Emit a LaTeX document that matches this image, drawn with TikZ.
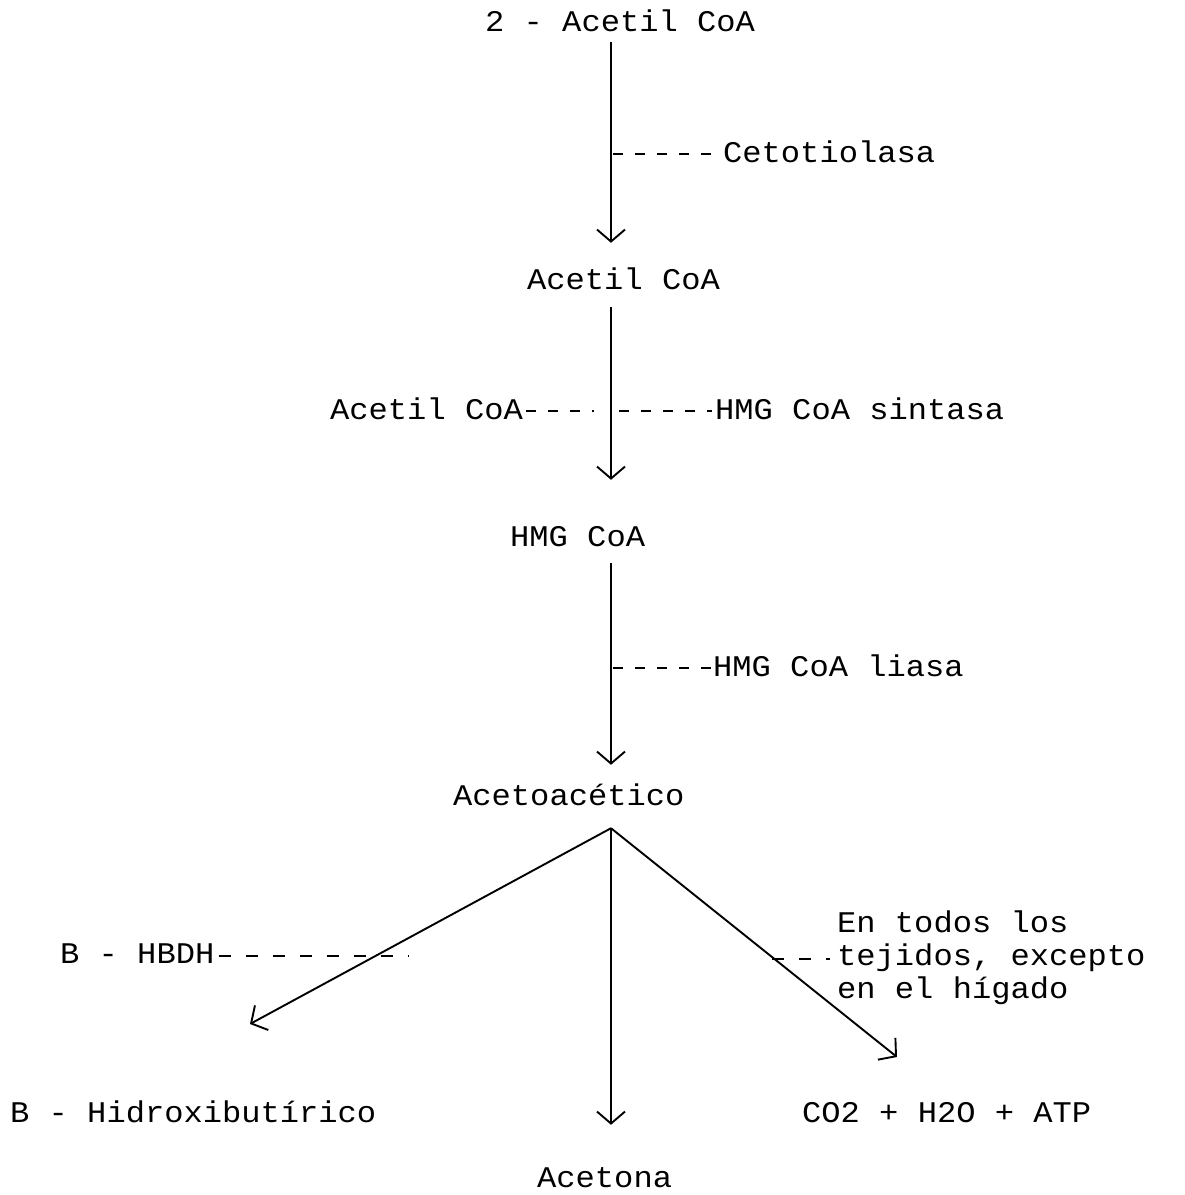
\documentclass[tikz,border=0pt]{standalone}
\usepackage{fontspec}
\setmainfont{Liberation Mono}[FakeStretch=1.07]
\usetikzlibrary{arrows.meta,calc}
\begin{document}
\begin{tikzpicture}[x=1pt,y=-1pt,
  lbl/.style={inner sep=0pt, text height=16pt, text depth=0pt, anchor=west, font=\fontsize{30}{33}\selectfont},
  arr/.style={line width=1.9pt, -{Straight Barb[length=12pt,width=28pt,line width=1.9pt]}},
  dsh/.style={line width=1.1pt, dash pattern=on 10pt off 12pt},
  dshw/.style={line width=1.1pt, dash pattern=on 12pt off 15pt}]
\useasboundingbox (0,0) rectangle (1185,1195);
\fill[white] (0,0) rectangle (1185,1195);
\coordinate (ax) at (611,0);
% main chain
\node[lbl] (t1) at (485,23) {2 - Acetil CoA};
\node[lbl] (t2) at (527,281) {Acetil CoA};
\node[lbl] (t3) at (510,538) {HMG CoA};
\node[lbl] (t4) at (453,797) {Acetoacético};
% enzymes
\node[lbl] (e1) at (723,154) {Cetotiolasa};
\node[lbl] (s1) at (330,411) {Acetil CoA};
\node[lbl] (e2) at (715,411) {HMG CoA sintasa};
\node[lbl] (e3) at (713,668) {HMG CoA liasa};
\node[lbl] (e4) at (60,955) {B - HBDH};
\node[lbl, align=left, text height=, text depth=, anchor=west] (e5) at (837,958) {En todos los\\tejidos, excepto\\en el hígado};
% products
\node[lbl] (p1) at (10,1114) {B - Hidroxibutírico};
\node[lbl] (p2) at (537,1179) {Acetona};
\node[lbl] (p3) at (802,1114) {CO2 + H2O + ATP};
% arrows
\coordinate (s1x) at ($(t1.south -| ax)$);
\draw[arr, shorten <=11pt, shorten >=30pt] (t1.south -| ax) -- (t2.north -| ax);
\draw[arr, shorten <=18pt, shorten >=50pt] (t2.south -| ax) -- (t3.north -| ax);
\draw[arr, shorten <=17pt, shorten >=24pt] (t3.south -| ax) -- (t4.north -| ax);
\coordinate (fork) at ($(t4.south -| ax)+(0,23)$);
\coordinate (tipL) at (250,1024);
\coordinate (tipR) at (897,1057);
\draw[arr] (fork) -- (tipL);
\draw[arr, shorten >=46pt] (fork) -- (p2.north -| ax);
\draw[arr] (fork) -- (tipR);
% dashed enzyme links
\draw[dsh] ($(e1.west -| ax)+(2,0)$) -- ($(e1.west)+(-3,0)$);
\draw[dsh] ($(s1.east)+(3,0)$) -- ++(68,0);
\draw[dsh] ($(e2.west -| ax)+(8,0)$) -- ($(e2.west)+(-3,0)$);
\draw[dsh] ($(e3.west -| ax)+(2,0)$) -- ($(e3.west)+(-1,0)$);
\draw[dshw] ($(e4.east)+(4,1)$) -- ++(190,0);
\draw[dshw] ($(e5.west)+(-65,1)$) -- ($(e5.west)+(-7,1)$);
\end{tikzpicture}
\end{document}
